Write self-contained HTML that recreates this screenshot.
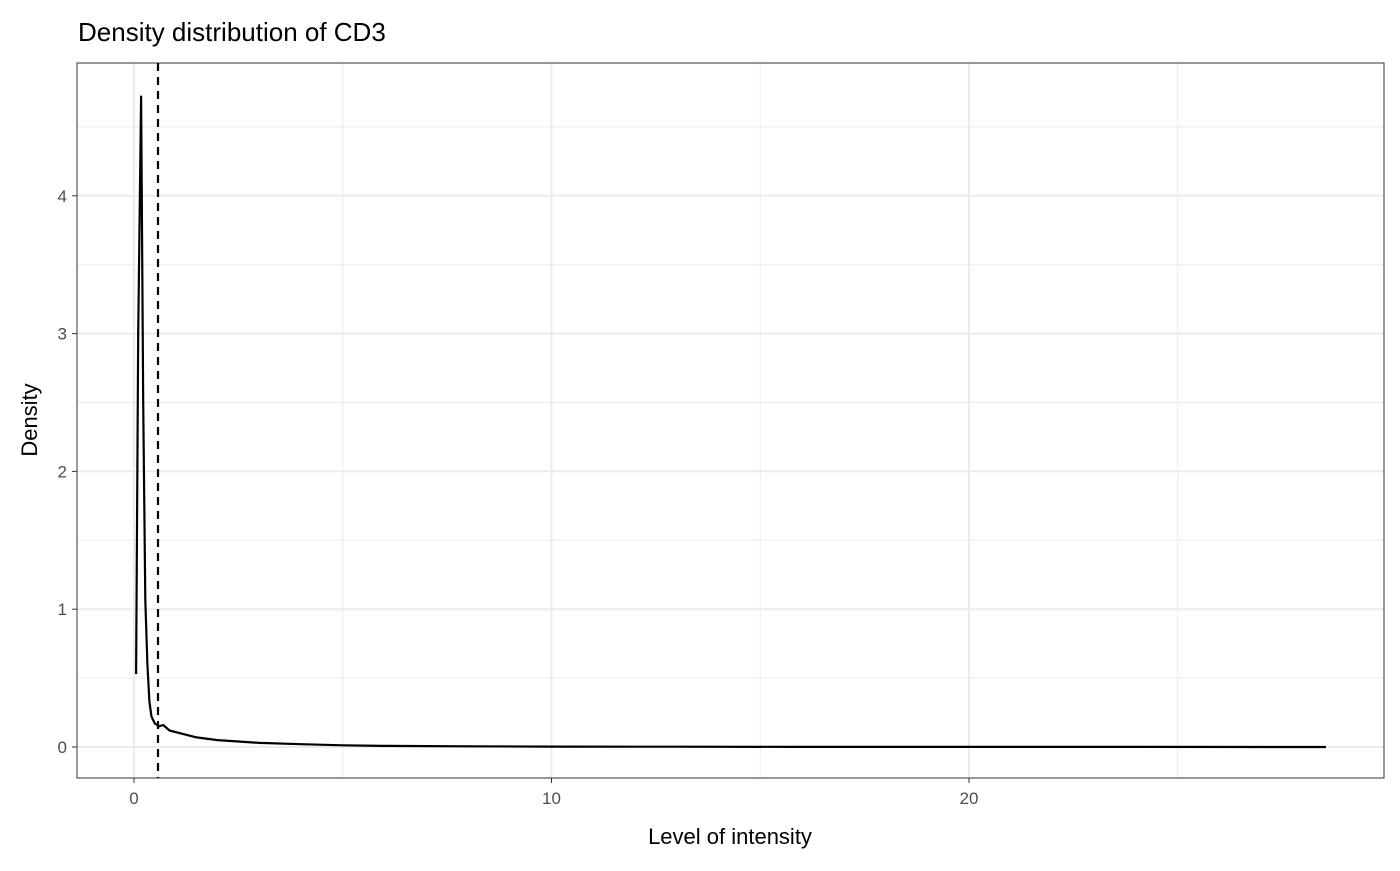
<!DOCTYPE html>
<html><head><meta charset="utf-8"><style>
body{margin:0;background:#fff;font-family:"Liberation Sans",sans-serif}
</style></head><body>
<svg width="1400" height="866" font-family="Liberation Sans, sans-serif">
<g id="grid"></g>
<rect x="77" y="63" width="1307" height="715" fill="none" stroke="#333" stroke-width="1"/>
<g id="marks"></g>
<g id="axes"></g>
<text x="78" y="41" font-size="26" fill="#000">Density distribution of CD3</text>
<text x="730" y="844" font-size="22" text-anchor="middle">Level of intensity</text>
<text transform="translate(37,420) rotate(-90)" font-size="22" text-anchor="middle">Density</text>
</svg>
<script>
const xVals=[0.05,0.1,0.17,0.22,0.27,0.32,0.37,0.42,0.5,0.6,0.7,0.85,1.1,1.5,2,2.5,3,4,5,6,8,10,13,16,20,24,28.55];
const densVals=[0.53,3.0,4.72,2.5,1.07,0.6,0.33,0.22,0.17,0.15,0.16,0.12,0.1,0.07,0.05,0.04,0.03,0.02,0.012,0.008,0.005,0.003,0.002,0.001,0.001,0.0005,0.0];
const xTicks=[0,10,20];
const yTicks=[0,1,2,3,4];
const cutoff=0.575;
const sx=v=>134+v*41.75;
const sy=v=>747-v*137.8;
const NS="http://www.w3.org/2000/svg";
const grid=document.getElementById('grid'),marks=document.getElementById('marks'),axes=document.getElementById('axes');
function mk(tag,attrs,parent){const e=document.createElementNS(NS,tag);for(const k in attrs)e.setAttribute(k,attrs[k]);parent.appendChild(e);return e;}
for(let i=0;i<yTicks.length;i++){
  const t=yTicks[i];
  const minor=t+0.5;
  if(sy(minor)>63){const m=mk('line',{x1:77,x2:1384,y1:sy(minor),y2:sy(minor),stroke:'#ebebeb','stroke-width':1},grid);
  
  }
  const g=mk('line',{x1:77,x2:1384,y1:sy(t),y2:sy(t),stroke:'#ebebeb','stroke-width':2},grid);
  
  
  const tk=mk('line',{x1:72,x2:77,y1:sy(t),y2:sy(t),stroke:'#333'},axes);
  
  
  const tx=mk('text',{x:67,y:sy(t)+6,'font-size':17,fill:'#4d4d4d','text-anchor':'end'},axes);
  tx.textContent=t;
  
  
}
for(const m of [-5,5,15,25]){
  if(sx(m)<77)continue;
  const l=mk('line',{x1:sx(m),x2:sx(m),y1:63,y2:778,stroke:'#ebebeb','stroke-width':1},grid);
  
  
}
for(const t of xTicks){
  const g=mk('line',{x1:sx(t),x2:sx(t),y1:63,y2:778,stroke:'#ebebeb','stroke-width':2},grid);
  
  
  const tk=mk('line',{x1:sx(t),x2:sx(t),y1:778,y2:783,stroke:'#333'},axes);
  
  
  const tx=mk('text',{x:sx(t),y:804,'font-size':17,fill:'#4d4d4d','text-anchor':'middle'},axes);
  tx.textContent=t;
  
  
}
const d=xVals.map((x,i)=>(i?'L':'M')+sx(x).toFixed(1)+','+sy(densVals[i]).toFixed(1)).join('');
const p=mk('path',{d:d,fill:'none',stroke:'#000','stroke-width':2.2,'stroke-linejoin':'round'},marks);


const v=mk('line',{x1:sx(cutoff),x2:sx(cutoff),y1:63,y2:778,stroke:'#000','stroke-width':2.2,'stroke-dasharray':'8,6'},marks);


</script>
</body></html>
